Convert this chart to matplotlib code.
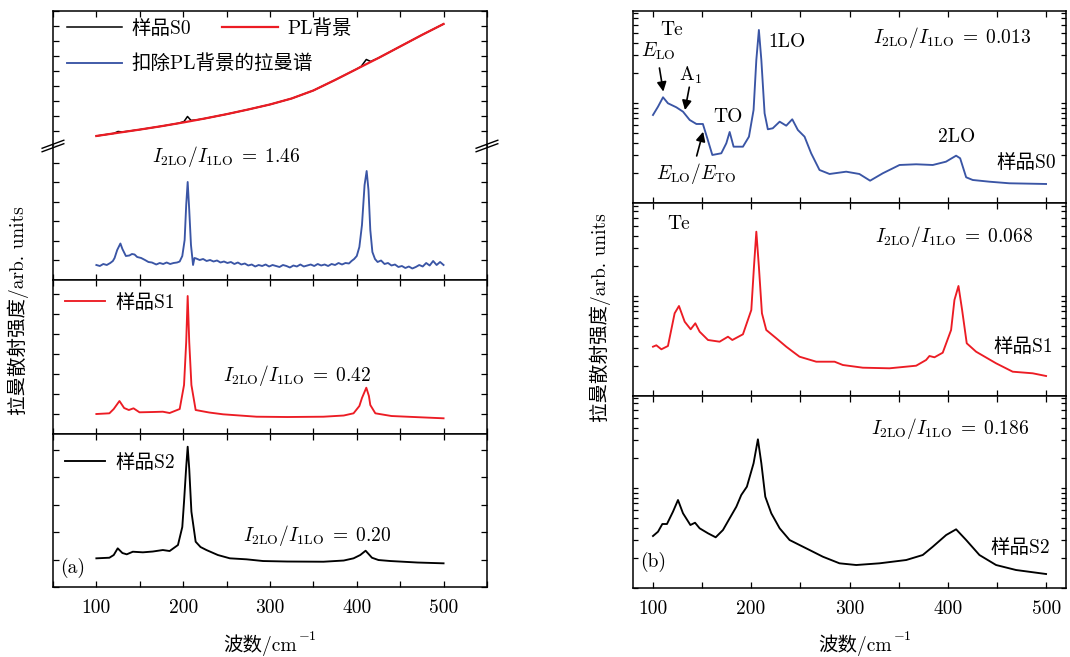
import numpy as np
import matplotlib
matplotlib.use('Agg')
import matplotlib.pyplot as plt
from matplotlib.ticker import MultipleLocator, NullFormatter, FixedLocator, FuncFormatter

plt.rcParams['font.family'] = ['cmr10', 'Noto Sans CJK SC']
plt.rcParams['mathtext.fontset'] = 'cm'
plt.rcParams['axes.formatter.use_mathtext'] = True
plt.rcParams['font.size'] = 14
plt.rcParams['axes.linewidth'] = 1.1

BLUE = '#3a55a5'
RED = '#ec1c24'

# ---------------- (a) left panel, linear intensity (arb.) ----------------
# sample S0 raw spectrum and its PL background
wn_a_s0 = [100, 120, 125, 130, 150, 175, 195, 201, 205, 209, 215, 225, 250, 275, 300,
           325, 350, 375, 400, 405, 411, 416, 425, 450, 475, 500]
int_a_s0 = [10, 12.6, 14.5, 14, 16.4, 19.8, 22.8, 24.5, 29.5, 25.6, 26, 27.5, 31.8, 36.5, 41.5,
            47.5, 55.5, 66, 77, 79.5, 86.5, 84.5, 88, 99.5, 111, 122]
wn_a_pl = [100, 125, 150, 175, 200, 225, 250, 275, 300, 325, 350, 375, 400, 425, 450, 475, 500]
int_a_pl = [10, 13.2, 16.4, 19.8, 23.5, 27.5, 31.8, 36.5, 41.5, 47.5, 55.5, 66, 77, 88, 99.5, 111, 122]

# S0 after removing PL background
wn_a_raman = [100, 104, 108, 112, 116, 119, 121, 124, 127.7, 130, 134, 138, 141, 144, 147, 151.6,
              156, 160, 164, 169, 173, 177, 181, 185, 189, 193, 196, 199, 201.7, 203.5, 205.2,
              207, 209, 211.4, 213, 215, 219, 223, 227, 231, 235, 239, 243, 247, 251, 255, 259,
              263, 267, 271, 275, 279, 283, 287, 291, 295, 299, 303, 307, 311, 315, 319, 323,
              327, 331, 335, 339, 343, 347, 351, 355, 359, 363, 367, 371, 375, 379, 383, 387,
              391, 394, 397, 400, 403, 406, 409, 411.4, 413.5, 415.6, 418, 421, 424, 428, 432,
              436, 440, 444, 448, 452, 456, 460, 464, 468, 472, 476, 480, 484, 488, 492, 496, 500]
int_a_raman = [15, 14, 16, 15, 17, 19, 22, 30, 36.5, 31, 24, 24.5, 26, 25.5, 23, 22,
               20, 18, 17.5, 15.5, 17, 16, 17.5, 16, 17, 17.5, 18.5, 24, 40, 75, 98,
               70, 35, 15, 22, 21.5, 20, 21, 19, 20, 18.5, 19.5, 17.5, 18.5, 17, 18, 16,
               17.5, 15.5, 16.5, 14.5, 15.5, 13.5, 15, 14, 15.5, 13.5, 15, 14, 13, 15, 14, 12.5,
               14.5, 13.5, 15.5, 13.5, 14.5, 15.5, 14, 16, 14.5, 15.5, 14, 16, 15, 17, 15.5, 17,
               16.5, 19, 21, 24, 33, 55, 95, 109, 90, 50, 28, 21, 18, 19.5, 16,
               17, 14.5, 15.5, 13, 14, 12, 13.5, 11.5, 13, 15, 13.5, 17, 14.5, 19, 15, 18, 15]

wn_a_s1 = [100, 115, 120, 126.6, 132, 137.4, 142.8, 149.7, 165, 176.6, 184.4, 196, 201, 203.5,
           205.2, 207, 209.5, 214.4, 230, 246, 284.6, 320, 361.6, 385, 396.3, 403, 406, 411,
           414, 415.6, 421.4, 440, 458, 500]
int_a_s1 = [20, 20.7, 25, 33, 26, 24, 25.7, 21.7, 22, 22.3, 21, 25, 49, 92,
            138, 92, 49, 24, 21.5, 19.7, 17.3, 17, 17.3, 18.5, 20.7, 28, 36, 46.3,
            38, 29, 20.7, 18, 17.3, 15.7]

wn_a_s2 = [100, 115, 120, 124.6, 130, 135, 142, 153.6, 165, 176.6, 184.4, 194, 199, 201, 203.5,
           205.2, 207, 209.5, 214.4, 220, 226.8, 240, 253.8, 273, 292, 320, 361.6, 385, 396.3,
           404, 410.2, 417.5, 425, 438.7, 470, 500]
int_a_s2 = [28.7, 29.3, 32, 38.7, 34, 32.7, 35.3, 34.7, 35.5, 37, 36, 42, 60, 85.3, 120,
            140.3, 118, 75.3, 45.3, 40, 37, 32, 28.7, 27.7, 26, 25.5, 25.3, 26.5, 28.7,
            32, 36.3, 29.3, 27, 26, 24.5, 23.7]

# ---------------- (b) right panel, log10 intensity (arb.) ----------------
wn_b_s0 = [100.3, 105.4, 110.5, 115.5, 124, 130.8, 137.6, 144.4, 151, 156, 160.6, 169.7, 174.8,
           178.2, 182.2, 191.7, 197.8, 202.5, 205.3, 207.9, 210.4, 213.7, 217, 222, 229, 235.7,
           241.8, 247.5, 254.3, 261, 269.5, 279.7, 296.6, 310, 320.9, 333.8, 350.8, 367.7,
           384.6, 398, 408.3, 412.4, 418.5, 425.2, 442, 462.4, 499.7]
log_b_s0 = [0.88, 0.963, 1.057, 0.997, 0.957, 0.913, 0.83, 0.79, 0.79, 0.63, 0.48, 0.497, 0.597,
            0.71, 0.563, 0.563, 0.663, 0.93, 1.43, 1.73, 1.43, 0.897, 0.737, 0.747, 0.813, 0.773,
            0.837, 0.73, 0.663, 0.497, 0.33, 0.29, 0.313, 0.29, 0.223, 0.297, 0.38, 0.387,
            0.38, 0.413, 0.473, 0.447, 0.257, 0.23, 0.213, 0.197, 0.19]

wn_b_s1 = [100.3, 103.7, 108.8, 115.5, 122.3, 126.7, 132.5, 138.6, 143.3, 147.7, 156.2, 168,
           176.5, 180.9, 191.7, 200.2, 202.9, 205.3, 207.9, 211, 215.4, 225.6, 235.7, 242.4,
           249.2, 266.2, 284.8, 293.2, 313.5, 340.6, 367.7, 377.8, 381.2, 386.3, 394.7, 403.2,
           406.6, 410.7, 414.4, 419.1, 428.6, 448.9, 465.8, 486.1, 499.7]
log_b_s1 = [0.493, 0.507, 0.467, 0.5, 0.827, 0.9, 0.743, 0.667, 0.727, 0.643, 0.56, 0.543,
            0.593, 0.56, 0.617, 0.86, 1.293, 1.643, 1.293, 0.827, 0.66, 0.577, 0.493, 0.443,
            0.393, 0.343, 0.343, 0.31, 0.283, 0.277, 0.303, 0.36, 0.4, 0.387, 0.433, 0.66,
            0.96, 1.1, 0.86, 0.527, 0.443, 0.327, 0.243, 0.227, 0.2]

wn_b_s2 = [100.3, 105.4, 109.8, 114.5, 120.6, 125.7, 130.8, 138.3, 143, 147.7, 156.2, 164,
           171.4, 178.2, 185, 190, 195.7, 202.5, 206.9, 210.4, 214.4, 220.5, 229, 239.1, 249.2,
           259.4, 272.9, 289.8, 306.8, 330.5, 357.6, 374.4, 384.6, 398.2, 408.3, 418.5, 432,
           448.9, 469.2, 499.7]
log_b_s2 = [0.52, 0.563, 0.64, 0.64, 0.763, 0.88, 0.747, 0.63, 0.653, 0.597, 0.547, 0.507,
            0.58, 0.697, 0.813, 0.93, 1.013, 1.247, 1.487, 1.247, 0.913, 0.747, 0.597, 0.48, 0.43,
            0.38, 0.313, 0.247, 0.23, 0.247, 0.28, 0.33, 0.413, 0.53, 0.587, 0.48, 0.33,
            0.23, 0.18, 0.14]

ratio_a = ['1.46', '0.42', '0.20']
ratio_b = ['0.013', '0.068', '0.186']

LW = 1.35


def ratio_text(v):
    return r'$I_{2\mathrm{LO}}/I_{1\mathrm{LO}}\;=\;' + v + '$'


# ticks every 50 cm-1, labels only on the hundreds
hundreds = FuncFormatter(lambda v, pos: '%d' % v if abs(v % 100) < 1e-6 else '')


def style_axis(ax):
    ax.tick_params(which='both', direction='in', top=True, right=True,
                   labelleft=False, labelbottom=False, length=4, width=0.9)
    ax.xaxis.set_major_locator(MultipleLocator(50))
    ax.xaxis.set_major_formatter(hundreds)


fig = plt.figure(figsize=(10.7, 6.57), dpi=100)

# ---------------- panel (a) ----------------
gs_a = fig.add_gridspec(4, 1, left=0.0495, right=0.4551, top=0.9833, bottom=0.1065,
                        hspace=0, height_ratios=[135, 134, 154, 153])
ax_t = fig.add_subplot(gs_a[0])
ax_r = fig.add_subplot(gs_a[1], sharex=ax_t)
ax_1 = fig.add_subplot(gs_a[2], sharex=ax_t)
ax_2 = fig.add_subplot(gs_a[3], sharex=ax_t)
for ax in (ax_t, ax_r, ax_1, ax_2):
    style_axis(ax)
ax_t.set_xlim(50, 550)

h_s0, = ax_t.plot(wn_a_s0, int_a_s0, color='k', lw=1.1)
h_pl, = ax_t.plot(wn_a_pl, int_a_pl, color=RED, lw=1.6)
ax_t.set_ylim(0, 135)
ax_t.yaxis.set_major_locator(MultipleLocator(15))
ax_t.spines['bottom'].set_visible(False)
ax_t.tick_params(which='both', bottom=False)

h_raman, = ax_r.plot(wn_a_raman, int_a_raman, color=BLUE, lw=LW)
ax_r.set_ylim(0, 134)
ax_r.yaxis.set_major_locator(MultipleLocator(19.5))
ax_r.spines['top'].set_visible(False)
ax_r.tick_params(which='both', top=False)
ax_r.text(0.399, 0.918, ratio_text(ratio_a[0]), transform=ax_r.transAxes,
          ha='center', va='center')

leg1 = ax_t.legend([h_s0, h_pl], ['样品S0', 'PL背景'], ncol=2, loc='center left',
                   bbox_to_anchor=(0.0, 0.867), frameon=False, handlelength=2.85,
                   handletextpad=0.5, columnspacing=1.6, borderaxespad=0.3)
ax_t.add_artist(leg1)
ax_t.legend([h_raman], ['扣除PL背景的拉曼谱'], loc='center left',
            bbox_to_anchor=(0.0, 0.607), frameon=False, handlelength=2.85,
            handletextpad=0.5, borderaxespad=0.3)

# break marks on both spines
for xx in (0, 1):
    for dy in (-0.013, 0.013):
        ax_r.plot([xx - 0.025, xx + 0.025], [1 + dy - 0.03, 1 + dy + 0.03],
                  transform=ax_r.transAxes, color='k', lw=1.0, clip_on=False)

h_s1a, = ax_1.plot(wn_a_s1, int_a_s1, color=RED, lw=LW)
ax_1.set_ylim(0, 154)
ax_1.yaxis.set_major_locator(MultipleLocator(20))
ax_1.legend([h_s1a], ['样品S1'], loc='center left', bbox_to_anchor=(0.0, 0.851),
            frameon=False, handlelength=2.1, handletextpad=0.5, borderaxespad=0.2)
ax_1.text(0.562, 0.383, ratio_text(ratio_a[1]), transform=ax_1.transAxes,
          ha='center', va='center')

h_s2a, = ax_2.plot(wn_a_s2, int_a_s2, color='k', lw=LW)
ax_2.set_ylim(0, 153)
ax_2.yaxis.set_major_locator(MultipleLocator(27.5))
ax_2.legend([h_s2a], ['样品S2'], loc='center left', bbox_to_anchor=(0.0, 0.81),
            frameon=False, handlelength=2.1, handletextpad=0.5, borderaxespad=0.2)
ax_2.text(0.608, 0.340, ratio_text(ratio_a[2]), transform=ax_2.transAxes,
          ha='center', va='center')
ax_2.text(0.046, 0.124, '(a)', transform=ax_2.transAxes, ha='center', va='center')
ax_2.tick_params(labelbottom=True, pad=9)

# ---------------- panel (b) ----------------
gs_b = fig.add_gridspec(3, 1, left=0.5916, right=0.9963, top=0.9833, bottom=0.105,
                        hspace=0, height_ratios=[192, 193, 192])
bx_0 = fig.add_subplot(gs_b[0])
bx_1 = fig.add_subplot(gs_b[1], sharex=bx_0)
bx_2 = fig.add_subplot(gs_b[2], sharex=bx_0)
# unlabeled log ticks 1..9, 10..90
log_ticks = [m * d for d in (1, 10) for m in range(1, 10)]
spectra_b = [(bx_0, wn_b_s0, log_b_s0, BLUE, 1.92),
             (bx_1, wn_b_s1, log_b_s1, RED, 1.93),
             (bx_2, wn_b_s2, log_b_s2, 'k', 1.92)]
for ax, wn, lg, col, top in spectra_b:
    ax.plot(wn, np.power(10.0, lg), color=col, lw=LW)
    ax.set_yscale('log')
    style_axis(ax)
    ax.yaxis.set_major_locator(FixedLocator(log_ticks))
    ax.yaxis.set_minor_locator(FixedLocator([]))
    ax.yaxis.set_major_formatter(NullFormatter())
    ax.set_ylim(1, 10 ** top)
    ax.tick_params(axis='y', length=3.5)
bx_0.set_xlim(80, 520)

arrow = dict(arrowstyle='-|>', color='k', lw=1.2, mutation_scale=14, shrinkA=0, shrinkB=0)
tf = bx_0.transAxes
bx_0.text(0.089, 0.901, 'Te', transform=tf, ha='center', va='center')
bx_0.text(0.058, 0.788, r'$E_{\mathrm{LO}}$', transform=tf, ha='center', va='center')
bx_0.annotate('', xy=(0.070, 0.580), xytext=(0.061, 0.703), xycoords=tf,
              textcoords=tf, arrowprops=arrow)
bx_0.text(0.132, 0.667, r'$\mathrm{A}_1$', transform=tf, ha='center', va='center')
bx_0.annotate('', xy=(0.120, 0.484), xytext=(0.130, 0.603), xycoords=tf,
              textcoords=tf, arrowprops=arrow)
bx_0.text(0.147, 0.155, r'$E_{\mathrm{LO}}/E_{\mathrm{TO}}$', transform=tf,
          ha='center', va='center')
bx_0.annotate('', xy=(0.162, 0.371), xytext=(0.147, 0.245), xycoords=tf,
              textcoords=tf, arrowprops=arrow)
bx_0.text(0.220, 0.446, 'TO', transform=tf, ha='center', va='center')
bx_0.text(0.355, 0.837, '1LO', transform=tf, ha='center', va='center')
bx_0.text(0.748, 0.345, '2LO', transform=tf, ha='center', va='center')
bx_0.text(0.909, 0.207, '样品S0', transform=tf, ha='center', va='center')
bx_0.text(0.736, 0.863, ratio_text(ratio_b[0]), transform=tf, ha='center', va='center')

bx_1.text(0.105, 0.891, 'Te', transform=bx_1.transAxes, ha='center', va='center')
bx_1.text(0.740, 0.825, ratio_text(ratio_b[1]), transform=bx_1.transAxes,
          ha='center', va='center')
bx_1.text(0.901, 0.255, '样品S1', transform=bx_1.transAxes, ha='center', va='center')

bx_2.text(0.732, 0.832, ratio_text(ratio_b[2]), transform=bx_2.transAxes,
          ha='center', va='center')
bx_2.text(0.894, 0.207, '样品S2', transform=bx_2.transAxes, ha='center', va='center')
bx_2.text(0.047, 0.137, '(b)', transform=bx_2.transAxes, ha='center', va='center')
bx_2.tick_params(labelbottom=True, pad=9)

# axis titles; the CJK part and the superscript are separate texts so the
# CJK glyphs can fall back to Noto (mathtext has no fallback)
ylab = '拉曼散射强度/arb. units'
fig.text(18 / 1070, 1 - 311 / 657, ylab, rotation=90, ha='center', va='center')
fig.text(600 / 1070, 1 - 318 / 657, ylab, rotation=90, ha='center', va='center')
for x_end in (297, 892):
    fig.text(x_end / 1070, 1 - 645 / 657, '波数/cm', ha='right', va='center')
    fig.text((x_end + 1) / 1070, 1 - 637 / 657, r'$-1$', ha='left', va='center', fontsize=10)

fig.savefig('out.png', dpi=100)
